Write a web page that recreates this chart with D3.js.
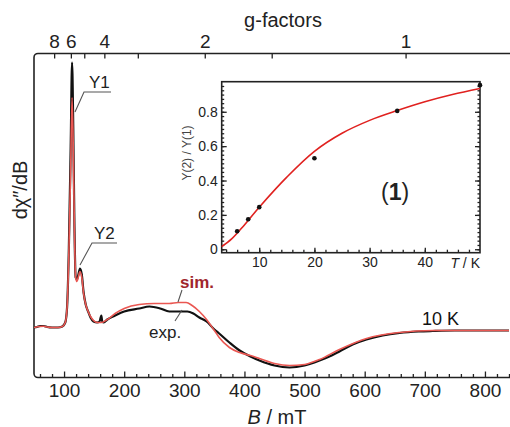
<!DOCTYPE html>
<html>
<head>
<meta charset="utf-8">
<script src="https://cdn.jsdelivr.net/npm/d3@7"></script>
<style>
  body { margin: 0; background: #fff; }
  svg { display: block; font-family: "Liberation Sans", Arial, sans-serif; }
  .axis path { display: none; }
  .axis line { stroke: #222; stroke-width: 1.3; }
  .axis text { fill: #222; }
</style>
</head>
<body>
<svg id="chart" width="510" height="427"></svg>
<script>
// EPR spectrum, experimental (black) and simulated (red), B in mT
var EXP_B = [50,55,60,66,72,80,90,97,102,105,108,111,113.3,115.3,117.3,119.3,121.5,123.5,126.5,129.5,
  132.5,136,140,144,149,155,159,162,163.5,166,172,185,200,225,242,260,275,290,305,315,
  325,337,350,358,375,392,410,425,450,475,500,525,545,558,580,603,630,658,690,713,
  750,800,840];
var EXP_SIGNAL = [0,0.05,0.15,0.15,0.05,0,0,0.1,0.5,2,8,18,26.5,20,10,5,4.8,5.2,5.9,5.3,
  3.5,2.3,1.6,1.0,0.6,0.5,0.6,1.2,0.6,0.5,0.8,1.2,1.6,1.9,2.1,1.9,1.6,1.6,1.6,1.4,
  1.0,0.6,-0.2,-0.6,-1.5,-2.3,-2.9,-3.3,-3.8,-4.0,-3.8,-3.3,-2.8,-2.4,-1.7,-1.2,-0.8,-0.55,-0.4,-0.35,
  -0.3,-0.3,-0.3];

var SIM_B = [50,60,66,72,80,90,97,102,105,108,111,113.3,115.3,117.3,119.3,121.5,123.5,126.5,129.5,132.5,
  136,140,144,149,155,162,172,185,200,225,250,275,290,303,313,325,337,350,358,375,
  392,410,425,450,475,500,525,558,603,658,713,770,840];
var SIM_SIGNAL = [0,0.1,0.12,0.05,0,0,0.1,0.5,2,7.5,16,23,18,9.5,5,4.6,5.0,5.6,5.0,3.4,
  2.3,1.6,1.1,0.7,0.5,0.5,0.8,1.4,1.9,2.3,2.4,2.4,2.5,2.5,2.2,1.6,0.8,-0.3,-1.0,-2.0,
  -2.5,-2.8,-3.1,-3.6,-3.8,-3.7,-3.2,-2.2,-1.1,-0.5,-0.3,-0.3,-0.3];

// axis ticks
var B_LABELS = [100,200,300,400,500,600,700,800];
var G_TICKS = [8,6,5,4,3,2,1.5,1];
var G_LABELS = [8,6,4,2,1];
var G_TIMES_B = 668; // mT, g*B at this frequency

// inset: Y(2)/Y(1) vs T
var TEMP_K = [6,8,10,20,35,50];
var RATIO = [0.105,0.175,0.245,0.53,0.805,0.955];
var FIT_T = [3.2,5,7,10,15,20,25,30,35,40,45,50];
var FIT_RATIO = [0.015,0.06,0.13,0.245,0.42,0.57,0.675,0.75,0.807,0.858,0.9,0.935];
var INSET_X_LABELS = [10,20,30,40];
var INSET_Y_LABELS = [0,0.2,0.4,0.6,0.8];

var svg = d3.select('#chart');

var pLeft = 34, pRight = 509, pTop = 53.5, pBottom = 377.5;

var x = d3.scaleLinear().domain([50, 840]).range([pLeft, pRight]);
var y = d3.scaleLinear().domain([-5, 27.4]).range([pBottom, pTop]);

svg.append('defs').append('clipPath').attr('id', 'main-clip')
  .append('rect').attr('x', pLeft).attr('y', pTop)
  .attr('width', pRight - pLeft).attr('height', pBottom - pTop);

// frame
svg.append('rect')
  .attr('x', pLeft).attr('y', pTop)
  .attr('width', 520 - pLeft).attr('height', pBottom - pTop)
  .attr('rx', 4)
  .attr('fill', 'none').attr('stroke', '#222').attr('stroke-width', 1.6);

// bottom axis, ticks pointing in
var minorB = d3.range(60, 841, 20).filter(function(v){ return v % 100 !== 0; });
svg.append('g').attr('class', 'axis')
  .attr('transform', 'translate(0,' + pBottom + ')')
  .call(d3.axisBottom(x).tickValues(minorB).tickSize(-3.5).tickFormat(''));
svg.append('g').attr('class', 'axis')
  .attr('transform', 'translate(0,' + pBottom + ')')
  .style('font-size', '19px')
  .call(d3.axisBottom(x).tickValues(B_LABELS).tickSizeInner(-6).tickSizeOuter(0).tickPadding(6));

// top axis, g-factors
svg.append('g').attr('class', 'axis')
  .attr('transform', 'translate(0,' + pTop + ')')
  .style('font-size', '19px')
  .call(d3.axisTop(x)
    .tickValues(G_TICKS.map(function(g){ return G_TIMES_B / g; }))
    .tickSizeInner(-5).tickSizeOuter(0).tickPadding(6)
    .tickFormat(function(b){
      var g = Math.round(G_TIMES_B / b * 10) / 10;
      return G_LABELS.indexOf(g) >= 0 ? g : '';
    }));

svg.append('text').attr('x', 283).attr('y', 27)
  .attr('text-anchor', 'middle').style('font-size', '20px').attr('fill', '#222')
  .text('g-factors');

var bLabel = svg.append('text').attr('x', 277).attr('y', 424)
  .attr('text-anchor', 'middle').style('font-size', '20px').attr('fill', '#222');
bLabel.append('tspan').style('font-style', 'italic').text('B');
bLabel.append('tspan').text(' / mT');

svg.append('text')
  .attr('transform', 'translate(27,190) rotate(-90)')
  .attr('text-anchor', 'middle').style('font-size', '20px').attr('fill', '#222')
  .text('d\u03c7\u2033/dB');

// spectra
var line = d3.line()
  .x(function(d){ return x(d[0]); })
  .y(function(d){ return y(d[1]); })
  .curve(d3.curveMonotoneX);

var curves = svg.append('g').attr('clip-path', 'url(#main-clip)');
curves.append('path')
  .datum(d3.zip(EXP_B, EXP_SIGNAL))
  .attr('d', line)
  .attr('fill', 'none').attr('stroke', '#111').attr('stroke-width', 2.2);
curves.append('path')
  .datum(d3.zip(SIM_B, SIM_SIGNAL))
  .attr('d', line)
  .attr('fill', 'none').attr('stroke', '#ea5752').attr('stroke-width', 1.6);

// annotations
function leader(points){
  svg.append('polyline')
    .attr('points', points.map(function(p){ return p.join(','); }).join(' '))
    .attr('fill', 'none').attr('stroke', '#555').attr('stroke-width', 1.1);
}
leader([[75,112],[84,92],[111,92]]);
svg.append('text').attr('x', 89).attr('y', 88).style('font-size', '17px').attr('fill', '#222').text('Y1');
leader([[80,265],[92,243],[117,243]]);
svg.append('text').attr('x', 94).attr('y', 239).style('font-size', '17px').attr('fill', '#222').text('Y2');

leader([[182,290],[178,302]]);
svg.append('text').attr('x', 180).attr('y', 288).style('font-size', '17px')
  .style('font-weight', 'bold').attr('fill', '#a0262c').text('sim.');
leader([[175,321],[182,310]]);
svg.append('text').attr('x', 149).attr('y', 338).style('font-size', '17px').attr('fill', '#222').text('exp.');

svg.append('text').attr('x', 422).attr('y', 325).style('font-size', '18px').attr('fill', '#111').text('10 K');

// inset
var iLeft = 221.7, iRight = 480, iTop = 81.7, iBottom = 252.7;
var ix = d3.scaleLinear().domain([3.2, 50]).range([iLeft, iRight]);
var iy = d3.scaleLinear().domain([-0.02, 0.975]).range([iBottom, iTop]);

var inset = svg.append('g');
inset.append('rect').attr('x', iLeft).attr('y', iTop)
  .attr('width', iRight - iLeft).attr('height', iBottom - iTop)
  .attr('fill', '#fff').attr('stroke', '#222').attr('stroke-width', 1.6);

inset.append('g').attr('class', 'axis')
  .attr('transform', 'translate(0,' + iBottom + ')')
  .call(d3.axisBottom(ix).tickValues(d3.range(4, 50, 2)).tickSize(-3).tickFormat(''));
inset.append('g').attr('class', 'axis')
  .attr('transform', 'translate(0,' + iBottom + ')')
  .style('font-size', '14px')
  .call(d3.axisBottom(ix).tickValues(INSET_X_LABELS).tickSizeInner(-5).tickSizeOuter(0).tickPadding(4));

var minorR = d3.range(0, 0.97, 0.025);
[iLeft, iRight].forEach(function(xx, k){
  var ax = k === 0 ? d3.axisLeft(iy) : d3.axisRight(iy);
  inset.append('g').attr('class', 'axis')
    .attr('transform', 'translate(' + xx + ',0)')
    .call(ax.tickValues(minorR).tickSize(-2.5).tickFormat(''));
  inset.append('g').attr('class', 'axis')
    .attr('transform', 'translate(' + xx + ',0)')
    .style('font-size', '14px')
    .call(ax.tickValues(INSET_Y_LABELS).tickSizeInner(-5).tickSizeOuter(0).tickPadding(4)
      .tickFormat(k === 0 ? function(d){ return d === 0 ? '0' : d3.format('.1f')(d); } : ''));
});

var tLabel = inset.append('text').attr('x', 480).attr('y', 268)
  .attr('text-anchor', 'end').style('font-size', '14px').attr('fill', '#222');
tLabel.append('tspan').style('font-style', 'italic').text('T');
tLabel.append('tspan').text(' / K');

inset.append('text')
  .attr('transform', 'translate(191,153) rotate(-90)')
  .attr('text-anchor', 'middle').style('font-size', '12px').attr('fill', '#444')
  .text('Y(2) / Y(1)');

var num = inset.append('text').attr('x', 381).attr('y', 200)
  .style('font-size', '23px').attr('fill', '#222');
num.append('tspan').text('(');
num.append('tspan').style('font-weight', 'bold').text('1');
num.append('tspan').text(')');

var fitLine = d3.line()
  .x(function(d){ return ix(d[0]); })
  .y(function(d){ return iy(d[1]); })
  .curve(d3.curveCatmullRom);
inset.append('path')
  .datum(d3.zip(FIT_T, FIT_RATIO))
  .attr('d', fitLine)
  .attr('fill', 'none').attr('stroke', '#e0211f').attr('stroke-width', 1.6);

inset.selectAll('.pt').data(d3.zip(TEMP_K, RATIO)).enter().append('circle')
  .attr('class', 'pt')
  .attr('cx', function(d){ return ix(d[0]); })
  .attr('cy', function(d){ return iy(d[1]); })
  .attr('r', 2.3).attr('fill', '#111');
</script>
</body>
</html>
